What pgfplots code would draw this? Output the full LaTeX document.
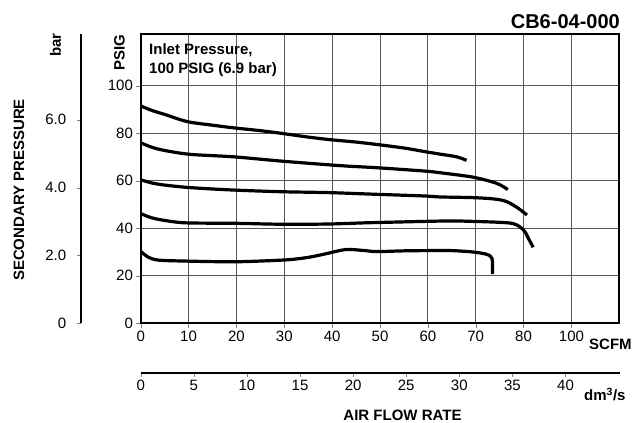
\documentclass[border=0pt]{standalone}
\usepackage{fontspec}
\setmainfont{Liberation Sans}
\usepackage{pgfplots}
\pgfplotsset{compat=1.18}

\begin{document}
\begin{tikzpicture}
\path (0pt,0pt) rectangle (643pt,423pt);

% main axis, SCFM / PSIG
\begin{axis}[
    scale only axis, anchor=south west,
    at={(140.7pt,99.7pt)},
    width=478.6pt, height=289.3pt,
    xmin=0, xmax=100, ymin=0, ymax=121.8,
    xtick={0,10,20,30,40,50,60,70,80,90},
    xticklabels={0,10,20,30,40,50,60,70,80,100},
    ytick={0,20,40,60,80,100},
    grid=major,
    grid style={line width=0.9pt, black!65},
    tick align=outside,
    xtick pos=bottom, ytick pos=left,
    /pgf/number format/assume math mode=true,
    tick label style={font=\fontsize{15}{18}\selectfont},
    axis line style={line width=2pt},
  ]
  % 90 PSIG setting
  \addplot[smooth, no marks, line width=3.2pt, black] coordinates {
    (0,91.5) (2.5,89.5) (5.4,87.7) (8,85.9) (10.5,84.6) (15,83.4)
    (19.35,82.3) (25,81.1) (29.3,80.0) (35,78.4) (39.6,77.3) (45,76.3)
    (49.3,75.3) (55,73.8) (59.3,72.3) (62.6,71.2) (66,70.1) (68.1,68.6)
  };
  % 75 PSIG setting
  \addplot[smooth, no marks, line width=3.2pt, black] coordinates {
    (0,76.0) (2.5,74.0) (5.4,72.6) (10.5,71.1) (19.35,70.1) (29.3,68.3)
    (37.5,67.0) (43,66.2) (49.3,65.5) (59.3,64.1) (62.5,63.4) (69.5,61.5)
    (74.4,58.9) (76.7,56.3)
  };
  % 60 PSIG setting
  \addplot[smooth, no marks, line width=3.2pt, black] coordinates {
    (0,60.4) (2.5,59.0) (5.4,58.1) (10.5,57.1) (19.35,56.1) (29.3,55.4)
    (39.6,55.0) (49.3,54.3) (59.3,53.6) (62.5,53.2) (69.5,52.9) (74,52.3)
    (76.5,51.2) (78.9,48.4) (80.7,45.6)
  };
  % 45 PSIG setting
  \addplot[smooth, no marks, line width=3.2pt, black] coordinates {
    (0,46.2) (2,44.6) (4.4,43.5) (9.3,42.3) (19.7,42.1) (29.5,41.7)
    (39.2,41.8) (46.9,42.3) (53,42.6) (59.3,42.9) (65,43.1) (69.5,42.9)
    (74,42.6) (77.2,42.2) (78.6,41.4) (79.6,40.0) (80.4,38.2) (81.0,35.8)
    (82.0,32.0)
  };
  % 30 PSIG setting
  \addplot[smooth, no marks, line width=3.2pt, black] coordinates {
    (0,30.3) (0.8,28.9) (1.6,27.8) (3.7,26.6) (9.3,26.2) (19.7,25.9)
    (29.5,26.6) (33,27.2) (35.7,28.0) (39.2,29.5) (42.0,30.8) (43.7,31.1)
    (46.9,30.6) (49.3,30.2) (55,30.5) (59.3,30.6) (65,30.6) (69.5,30.0)
    (72,29.2) (73.0,28.4) (73.4,27.3) (73.5,25.9) (73.5,20.7)
  };
\end{axis}

% bar scale on the left
\begin{axis}[
    scale only axis, anchor=south west,
    at={(81pt,99.7pt)},
    width=10pt, height=289.3pt,
    xmin=0, xmax=1, ymin=0, ymax=8.53,
    hide x axis,
    axis y line*=left,
    ytick={0,2,4,6},
    yticklabels={0,2.0,4.0,6.0},
    tick align=outside,
    tick label style={font=\fontsize{15}{18}\selectfont},
    yticklabel style={xshift=-7pt},
    axis line style={line width=2pt},
  ]
\end{axis}

% dm3/s scale at the bottom
\begin{axis}[
    scale only axis, anchor=south west,
    at={(140.7pt,50.3pt)},
    width=479pt, height=10pt,
    xmin=0, xmax=45.1, ymin=0, ymax=1,
    hide y axis,
    axis x line*=bottom,
    xtick={0,5,10,15,20,25,30,35,40},
    tick align=outside,
    /pgf/number format/assume math mode=true,
    tick label style={font=\fontsize{15}{18}\selectfont},
    axis line style={line width=2pt},
  ]
\end{axis}

\node[anchor=base east, inner sep=0pt, font=\fontsize{20}{24}\selectfont\bfseries]
  at (620pt,394.7pt) {CB6-04-000};
\node[anchor=base west, inner sep=0pt, font=\fontsize{15}{18}\selectfont\bfseries] at (149pt,368pt) {Inlet Pressure,};
\node[anchor=base west, inner sep=0pt, font=\fontsize{15}{18}\selectfont\bfseries] at (149pt,349pt) {100 PSIG (6.9 bar)};
\node[rotate=90, inner sep=0pt, font=\fontsize{15}{18}\selectfont\bfseries] at (55.5pt,378pt) {bar};
\node[rotate=90, inner sep=0pt, font=\fontsize{15}{18}\selectfont\bfseries] at (119.5pt,370pt) {PSIG};
\node[rotate=90, inner sep=0pt, font=\fontsize{15}{18}\selectfont\bfseries] at (19pt,233pt) {SECONDARY PRESSURE};
\node[anchor=base west, inner sep=0pt, font=\fontsize{15}{18}\selectfont\bfseries] at (589pt,73pt) {SCFM};
\node[anchor=base west, inner sep=0pt, font=\fontsize{15}{18}\selectfont\bfseries] at (584pt,22pt) {dm\textsuperscript{3}/s};
\node[anchor=base, inner sep=0pt, font=\fontsize{15}{18}\selectfont\bfseries] at (402.5pt,2pt) {AIR FLOW RATE};
\end{tikzpicture}
\end{document}
